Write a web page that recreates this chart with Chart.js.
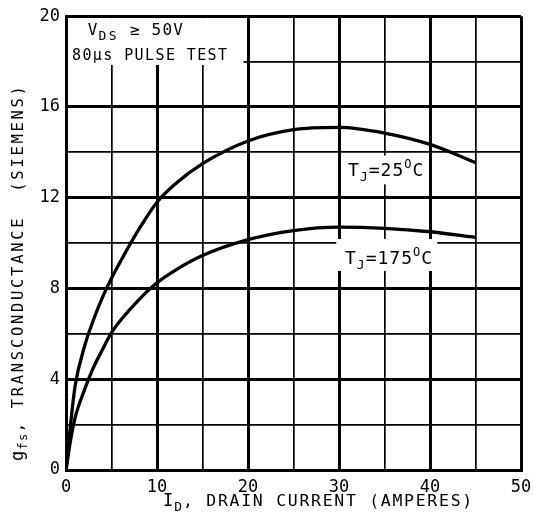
<!DOCTYPE html>
<html><head><meta charset="utf-8">
<script src="https://cdn.jsdelivr.net/npm/chart.js@4/dist/chart.umd.min.js"></script>
<style>html,body{margin:0;padding:0;background:#fff}canvas{display:block}</style>
</head><body>
<canvas id="c" width="533" height="522"></canvas>
<script>
// ---- data ----
const drainCurrent = [0, 0.5, 1, 2, 3, 4, 5, 6, 8, 10, 12, 15, 20, 25, 30, 35, 40, 45];
const gfs25C  = [0, 2.0, 3.7, 5.4, 6.6, 7.6, 8.45, 9.2, 10.6, 11.8, 12.6, 13.5, 14.5, 15.0, 15.1, 14.85, 14.35, 13.55];
const gfs175C = [0, 1.3, 2.3, 3.5, 4.5, 5.3, 6.05, 6.6, 7.5, 8.25, 8.8, 9.45, 10.15, 10.55, 10.7, 10.65, 10.5, 10.25];
const xTickLabels = [0, 10, 20, 30, 40, 50];
const yTickLabels = [0, 4, 8, 12, 16, 20];

const FONT = '"DejaVu Sans Mono", monospace';

function drawRich(ctx, segs, x, y) {
  let cx = x;
  for (const s of segs) {
    ctx.font = s.s + 'px ' + FONT;
    ctx.letterSpacing = (s.ls || 0) + 'px';
    ctx.fillText(s.t, cx, y + (s.dy || 0));
    cx += ctx.measureText(s.t).width + (s.gap || 0);
  }
  ctx.letterSpacing = '0px';
}

const labels = [
  { x: 2.4, y: 19.17, segs: [{t:'V', s:16, ls:1}, {t:'DS', s:13, dy:5, ls:2.5}, {t:' ≥ 50V', s:16, ls:1.2}] },
  { x: 0.66, y: 18.05, segs: [{t:'80μs PULSE TEST', s:15, ls:1.4}] },
  { x: 31.0, y: 12.94, segs: [{t:'T', s:18, ls:1}, {t:'J', s:13, dy:5, gap:1}, {t:'=25', s:18, ls:1}, {t:'O', s:12, dy:-8, gap:1}, {t:'C', s:18}] },
  { x: 30.66, y: 9.08, segs: [{t:'T', s:18, ls:1}, {t:'J', s:13, dy:5, gap:1}, {t:'=175', s:18, ls:1}, {t:'O', s:12, dy:-8, gap:1}, {t:'C', s:18}] }
];
const masks = [[0, 19.5, 17.85, 20], [30.4, 39.8, 12.59, 13.86], [29.7, 40.8, 8.77, 10.18]];

const annot = {
  id: 'annot',
  beforeDatasetsDraw(chart) {
    const {ctx, chartArea: a, scales: {x, y}} = chart;
    ctx.save();
    ctx.fillStyle = '#fff';
    for (const m of masks) {
      const l = Math.max(x.getPixelForValue(m[0]), a.left + 2);
      const r = x.getPixelForValue(m[1]);
      const t = Math.max(y.getPixelForValue(m[3]), a.top + 2);
      const b = y.getPixelForValue(m[2]);
      ctx.fillRect(l, t, r - l, b - t);
    }
    ctx.restore();
  },
  afterDatasetsDraw(chart) {
    const {ctx, scales: {x, y}} = chart;
    ctx.save();
    ctx.fillStyle = '#000';
    ctx.textAlign = 'left';
    ctx.textBaseline = 'alphabetic';
    for (const lb of labels) drawRich(ctx, lb.segs, x.getPixelForValue(lb.x), y.getPixelForValue(lb.y));
    ctx.restore();
  },
  afterDraw(chart) {
    const {ctx} = chart;
    ctx.save();
    ctx.fillStyle = '#000';
    ctx.textAlign = 'left';
    ctx.textBaseline = 'alphabetic';
    drawRich(ctx, [{t:'I', s:17, ls:1}, {t:'D', s:13, dy:5, ls:1}, {t:', DRAIN CURRENT (AMPERES)', s:16.5, ls:1.7}], 163, 506);
    ctx.translate(23, 461);
    ctx.rotate(-Math.PI / 2);
    drawRich(ctx, [{t:'g', s:17, ls:1}, {t:'fs', s:12, dy:4, ls:1.5}, {t:', TRANSCONDUCTANCE  (SIEMENS)', s:15.5, ls:2.7}], 0, 0);
    ctx.restore();
  }
};

const mk = (xs, ys) => xs.map((v, i) => ({x: v, y: ys[i]}));

new Chart(document.getElementById('c'), {
  type: 'scatter',
  data: {
    datasets: [
      { label: 'TJ=25°C', data: mk(drainCurrent, gfs25C), showLine: true, borderColor: '#000', borderWidth: 3.3, pointRadius: 0, cubicInterpolationMode: 'monotone', fill: false },
      { label: 'TJ=175°C', data: mk(drainCurrent, gfs175C), showLine: true, borderColor: '#000', borderWidth: 3.3, pointRadius: 0, cubicInterpolationMode: 'monotone', fill: false }
    ]
  },
  options: {
    responsive: false,
    animation: false,
    layout: { padding: { top: 14, right: 12, left: 0, bottom: 0 } },
    plugins: { legend: { display: false }, tooltip: { enabled: false } },
    scales: {
      x: {
        type: 'linear', min: 0, max: 50,
        afterFit: s => { s.height = 52; s.paddingRight = 0; s.paddingLeft = 0; },
        ticks: { stepSize: 5, autoSkip: false, maxRotation: 0, padding: 7, color: '#000', font: { family: FONT, size: 17 },
          callback: v => xTickLabels.includes(v) ? String(v) : '' },
        grid: { color: '#000', drawTicks: false, lineWidth: c => (c.tick && c.tick.value % 10 === 0) ? 3 : 1.7 },
        border: { display: true, color: '#000', width: 3 }
      },
      y: {
        type: 'linear', min: 0, max: 20,
        afterFit: s => { s.width = 66; },
        ticks: { stepSize: 2, autoSkip: false, padding: 6, color: '#000', font: { family: FONT, size: 17 },
          callback: v => yTickLabels.includes(v) ? String(v) : '' },
        grid: { color: '#000', drawTicks: false, lineWidth: c => (c.tick && c.tick.value % 4 === 0) ? 3 : 1.7 },
        border: { display: true, color: '#000', width: 3 }
      }
    }
  },
  plugins: [annot]
});
</script>
</body></html>
